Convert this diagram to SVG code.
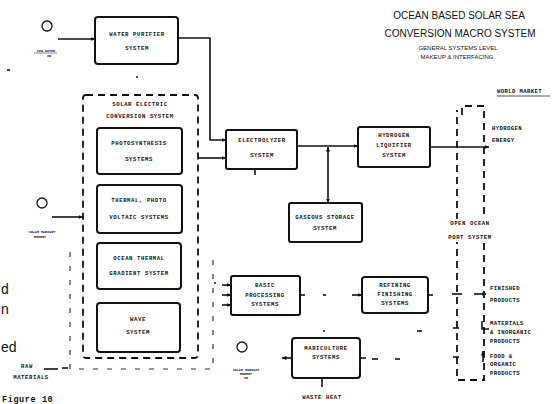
<svg xmlns="http://www.w3.org/2000/svg" width="555" height="404" viewBox="0 0 555 404">
<defs>
<style>
.box{fill:#fff;stroke:#111;stroke-width:2;}
.ln{fill:none;stroke:#111;stroke-width:1.6;}
.dash{fill:none;stroke:#111;stroke-width:1.8;stroke-dasharray:7,5;}
.fdash{fill:none;stroke:#333;stroke-width:1.2;stroke-dasharray:5,9;}
.lab{font-family:"Liberation Mono",monospace;font-weight:bold;font-size:5.6px;letter-spacing:0.6px;fill:#111;text-anchor:middle;}
.labl{font-family:"Liberation Mono",monospace;font-weight:bold;font-size:5.6px;letter-spacing:0.4px;fill:#111;}
.tiny{font-family:"Liberation Mono",monospace;font-weight:bold;font-size:3.4px;fill:#222;text-anchor:middle;}
.title{font-family:"Liberation Sans",Arial,sans-serif;font-size:10px;fill:#111;text-anchor:middle;}
.sub{font-family:"Liberation Sans",Arial,sans-serif;font-size:6px;fill:#111;text-anchor:middle;}
.frag{font-family:"Liberation Sans",Arial,sans-serif;font-size:14px;fill:#111;}
</style>
<marker id="ah" viewBox="0 0 10 10" refX="9" refY="5" markerWidth="5" markerHeight="5" orient="auto-start-reverse" markerUnits="userSpaceOnUse"><path d="M0,1 L10,5 L0,9 Z" fill="#111"/></marker>
</defs>
<rect width="555" height="404" fill="#fff"/>

<g id="title">
<text class="title" x="459" y="19">OCEAN BASED SOLAR SEA</text>
<text class="title" x="460" y="37">CONVERSION MACRO  SYSTEM</text>
<text class="sub" x="458" y="50">GENERAL SYSTEMS LEVEL</text>
<text class="sub" x="457" y="59">MAKEUP &amp; INTERFACING</text>
</g>

<g id="connectors">
<line class="ln" x1="58" y1="39" x2="95" y2="39" marker-end="url(#ah)"/>
<polyline class="ln" points="178,38 210,38 210,140 226,140" marker-end="url(#ah)"/>
<line class="ln" x1="198" y1="158" x2="226" y2="158" marker-end="url(#ah)"/>
<line class="ln" x1="52" y1="217" x2="83" y2="217" marker-end="url(#ah)"/>
<line class="ln" x1="297" y1="146" x2="358" y2="146" marker-end="url(#ah)"/>
<line class="ln" x1="328" y1="147" x2="328" y2="203" marker-start="url(#ah)" marker-end="url(#ah)"/>
<line class="ln" x1="430" y1="147" x2="489" y2="147" marker-end="url(#ah)"/>
<line class="ln" x1="255" y1="169" x2="255" y2="175"/>
<line class="ln" x1="44" y1="369" x2="58" y2="369"/>
<line class="ln" x1="62" y1="368" x2="68" y2="368"/>
<path class="fdash" d="M70,252 V369 H213 V255"/>
<line class="ln" x1="222" y1="285" x2="231" y2="285" marker-end="url(#ah)"/>
<line class="ln" x1="222" y1="295" x2="231" y2="295" marker-end="url(#ah)"/>
<line class="ln" x1="222" y1="305" x2="231" y2="305" marker-end="url(#ah)"/>
<line class="ln" x1="300" y1="295" x2="305" y2="295"/>
<line class="ln" x1="323" y1="295" x2="326" y2="295"/>
<line class="ln" x1="352" y1="295" x2="362" y2="295" marker-end="url(#ah)"/>
<line class="ln" x1="428" y1="295" x2="433" y2="295"/>
<line class="ln" x1="452" y1="294" x2="462" y2="294"/>
<line class="ln" x1="474" y1="294" x2="486" y2="294" marker-end="url(#ah)"/>
<line class="ln" x1="453" y1="328" x2="459" y2="328"/>
<polyline class="ln" points="482,321 482,329 489,329"/>
<line class="ln" x1="453" y1="357" x2="459" y2="357"/>
<line class="ln" x1="483" y1="362" x2="483" y2="351" marker-end="url(#ah)"/>
<line class="ln" x1="292" y1="358" x2="282" y2="358" marker-end="url(#ah)"/>
<line class="ln" x1="360" y1="358" x2="366" y2="358"/>
<line class="ln" x1="372" y1="359" x2="378" y2="359"/>
<line class="ln" x1="395" y1="359" x2="400" y2="359"/>
<line class="ln" x1="322" y1="378" x2="322" y2="387"/>
<line class="ln" x1="323" y1="331" x2="325" y2="331"/>
<line class="ln" x1="417" y1="331" x2="422" y2="331"/>
<line class="ln" x1="214" y1="283" x2="216" y2="283"/>
<line class="ln" x1="7" y1="70" x2="10" y2="70"/>
<line class="ln" x1="136" y1="77" x2="138" y2="77"/>
</g>

<g id="sun1">
<circle cx="47" cy="26" r="5" fill="#fff" stroke="#111" stroke-width="1.3"/>
<line x1="34" y1="53" x2="57" y2="53" stroke="#333" stroke-width="0.6"/>
<text class="tiny" x="46" y="52">SEA WATER</text>
<text class="tiny" x="49" y="57">IN</text>
</g>

<g id="sun2">
<circle cx="42" cy="203" r="5" fill="#fff" stroke="#111" stroke-width="1.3"/>
<text class="tiny" x="42" y="233">SOLAR  RADIANT</text>
<text class="tiny" x="40" y="238">ENERGY</text>
</g>

<g id="sun3">
<circle cx="242" cy="347" r="5" fill="#fff" stroke="#111" stroke-width="1.3"/>
<text class="tiny" x="246" y="371">SOLAR RADIANT</text>
<text class="tiny" x="246" y="375">ENERGY</text>
<text class="tiny" x="246" y="379">IN</text>
</g>

<g id="water-purifier">
<rect class="box" x="95" y="17" width="83" height="47" rx="3"/>
<text class="lab" x="137" y="36">WATER PURIFIER</text>
<text class="lab" x="137" y="50">SYSTEM</text>
</g>

<g id="solar-electric">
<rect class="dash" x="83" y="95" width="115" height="263" rx="3"/>
<text class="lab" x="140" y="106">SOLAR  ELECTRIC</text>
<text class="lab" x="140" y="118">CONVERSION SYSTEM</text>
</g>

<g id="photosynthesis">
<rect class="box" x="97" y="128" width="85" height="46" rx="3"/>
<text class="lab" x="139" y="145">PHOTOSYNTHESIS</text>
<text class="lab" x="139" y="161">SYSTEMS</text>
</g>

<g id="thermal-photovoltaic">
<rect class="box" x="97" y="185" width="85" height="48" rx="3"/>
<text class="lab" x="139" y="202">THERMAL, PHOTO</text>
<text class="lab" x="139" y="219">VOLTAIC SYSTEMS</text>
</g>

<g id="ocean-thermal">
<rect class="box" x="97" y="243" width="84" height="46" rx="3"/>
<text class="lab" x="139" y="260">OCEAN THERMAL</text>
<text class="lab" x="139" y="275">GRADIENT SYSTEM</text>
</g>

<g id="wave">
<rect class="box" x="97" y="303" width="83" height="49" rx="3"/>
<text class="lab" x="138" y="321">WAVE</text>
<text class="lab" x="138" y="334">SYSTEM</text>
</g>

<g id="electrolyzer">
<rect class="box" x="226" y="130" width="71" height="39" rx="2"/>
<text class="lab" x="262" y="142">ELECTROLYZER</text>
<text class="lab" x="262" y="157">SYSTEM</text>
</g>

<g id="hydrogen-liquifier">
<rect class="box" x="358" y="127" width="72" height="40" rx="2"/>
<text class="lab" x="394" y="137">HYDROGEN</text>
<text class="lab" x="394" y="147">LIQUIFIER</text>
<text class="lab" x="394" y="157">SYSTEM</text>
</g>

<g id="gaseous-storage">
<rect class="box" x="289" y="203" width="73" height="39" rx="2"/>
<text class="lab" x="325" y="219">GASEOUS STORAGE</text>
<text class="lab" x="325" y="230">SYSTEM</text>
</g>

<g id="open-ocean-port">
<path class="dash" d="M462,115 V106 H484 V380 H457 V110" stroke-dasharray="6,9"/>
<rect x="446" y="219" width="48" height="23" fill="#fff"/>
<text class="lab" x="470" y="225">OPEN OCEAN</text>
<text class="lab" x="470" y="239">PORT SYSTEM</text>
</g>

<g id="world-market">
<text class="labl" x="497" y="93">WORLD MARKET</text>
<line x1="497" y1="96" x2="550" y2="96" stroke="#222" stroke-width="0.8"/>
</g>

<g id="hydrogen-energy">
<text class="labl" x="492" y="130">HYDROGEN</text>
<text class="labl" x="492" y="142">ENERGY</text>
</g>

<g id="basic-processing">
<rect class="box" x="231" y="276" width="69" height="39" rx="2"/>
<text class="lab" x="265" y="287">BASIC</text>
<text class="lab" x="265" y="297">PROCESSING</text>
<text class="lab" x="265" y="306">SYSTEMS</text>
</g>

<g id="refining">
<rect class="box" x="362" y="277" width="66" height="36" rx="3"/>
<text class="lab" x="395" y="287">REFINING</text>
<text class="lab" x="395" y="296">FINISHING</text>
<text class="lab" x="395" y="305">SYSTEMS</text>
</g>

<g id="mariculture">
<rect class="box" x="292" y="338" width="68" height="40" rx="3"/>
<text class="lab" x="326" y="350">MARICULTURE</text>
<text class="lab" x="326" y="359">SYSTEMS</text>
</g>

<g id="products">
<text class="labl" x="490" y="290">FINISHED</text>
<text class="labl" x="490" y="302">PRODUCTS</text>
<text class="labl" x="490" y="325">MATERIALS</text>
<text class="labl" x="490" y="334">&amp; INORGANIC</text>
<text class="labl" x="490" y="343">PRODUCTS</text>
<text class="labl" x="490" y="358">FOOD &amp;</text>
<text class="labl" x="490" y="366">ORGANIC</text>
<text class="labl" x="490" y="375">PRODUCTS</text>
</g>

<g id="waste-heat">
<text class="lab" x="322" y="399">WASTE HEAT</text>
</g>

<g id="raw-materials">
<text class="lab" x="27" y="368">RAW</text>
<text class="lab" x="31" y="379">MATERIALS</text>
</g>

<g id="page-fragments">
<text class="frag" x="1" y="294">d</text>
<text class="frag" x="1" y="314">n</text>
<text class="frag" x="1" y="352">ed</text>
<text x="2" y="402" font-family="Liberation Mono,monospace" font-weight="bold" font-size="8.5px" letter-spacing="0.6px" fill="#111">Figure 10</text>
</g>
</svg>
